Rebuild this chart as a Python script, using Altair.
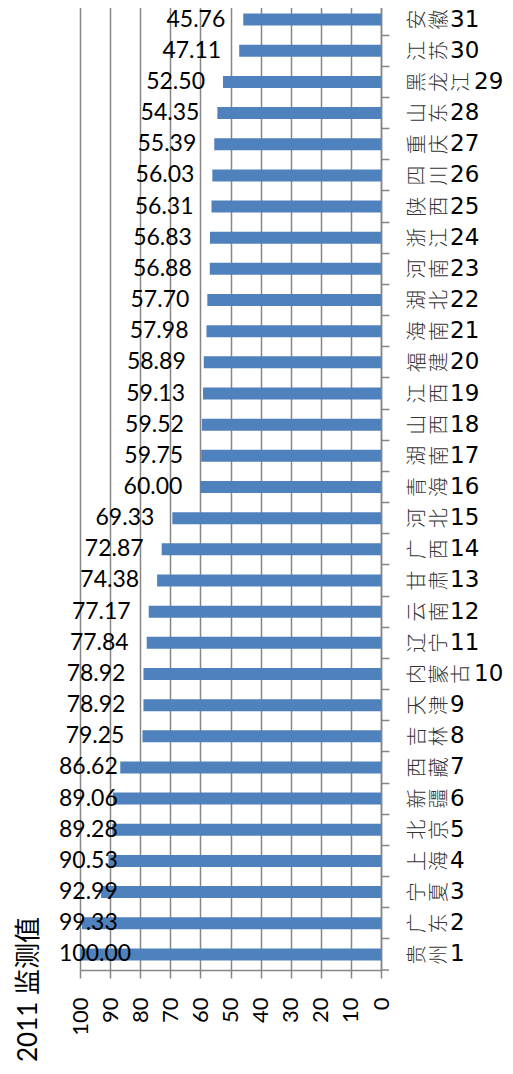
import altair as alt
import pandas as pd

ranks = list(range(1, 32))
provinces = ["贵州", "广东", "宁夏", "上海", "北京", "新疆", "西藏", "吉林", "天津", "内蒙古",
             "辽宁", "云南", "甘肃", "广西", "河北", "青海", "湖南", "山西", "江西", "福建",
             "海南", "湖北", "河南", "浙江", "陕西", "四川", "重庆", "山东", "黑龙江", "江苏", "安徽"]
values = [100.00, 99.33, 92.99, 90.53, 89.28, 89.06, 86.62, 79.25, 78.92, 78.92,
          77.84, 77.17, 74.38, 72.87, 69.33, 60.00, 59.75, 59.52, 59.13, 58.89,
          57.98, 57.70, 56.88, 56.83, 56.31, 56.03, 55.39, 54.35, 52.50, 47.11, 45.76]
x_ticks = [0, 10, 20, 30, 40, 50, 60, 70, 80, 90, 100]
axis_title = "2011 监测值"

df = pd.DataFrame({"rank": ranks, "name": provinces, "value": values})

W, H = 301, 966
BLUE = "#4F81BD"
GRID = "#868686"
NUM_FONT = "Lato"
CJK_FONT = "Noto Sans CJK SC"

y = alt.Y("rank:O", sort="descending",
          scale=alt.Scale(paddingInner=0, paddingOuter=0),
          axis=alt.Axis(orient="right", labels=False, title=None, domainColor=GRID,
                        domainWidth=1.5, tickColor=GRID, tickWidth=1.5, tickSize=8,
                        bandPosition=0, grid=False))
x = alt.X("value:Q",
          scale=alt.Scale(domain=[0, 100], reverse=True, nice=False),
          axis=alt.Axis(values=x_ticks, grid=True, gridColor=GRID, gridWidth=1.5,
                        domainColor=GRID, domainWidth=1.5, tickColor=GRID, tickWidth=1.5,
                        tickSize=8, labelAngle=270, labelAlign="right",
                        labelBaseline="middle", labelFont=NUM_FONT, labelFontSize=22,
                        labelPadding=19, labelColor="black", labelFlush=False,
                        labelOverlap=False, title=axis_title, titleAngle=270,
                        titleX=-52, titleY=19, titleAlign="center",
                        titleBaseline="middle", titleFont=f"{NUM_FONT}, {CJK_FONT}",
                        titleFontSize=26, titleFontWeight="normal", titleColor="black"))

base = alt.Chart(df)

bars = base.mark_bar(size=12, color=BLUE).encode(x=x, y=y)

lab_out = base.transform_filter("datum.value <= 81.4").mark_text(
    align="right", baseline="middle", dx=-18, font=NUM_FONT, fontSize=23, color="black"
).encode(x=x, y=y, text=alt.Text("value:Q", format=".2f"))

lab_clamp = base.transform_filter("datum.value > 81.4").mark_text(
    align="left", baseline="middle", font=NUM_FONT, fontSize=23, color="black"
).encode(x=alt.value(-21), y=y, text=alt.Text("value:Q", format=".2f"))

chars = base.transform_calculate(
    c0="substring(datum.name, 0, 1)",
    c1="substring(datum.name, 1, 2)",
    c2="substring(datum.name, 2, 3)",
    n="length(datum.name)",
)
char_layers = []
for i in range(3):
    char_layers.append(
        chars.transform_filter(f"datum.n > {i}").mark_text(
            angle=270, align="center", baseline="middle", font=CJK_FONT,
            fontSize=20, fontWeight=300, color="#333333"
        ).encode(x=alt.value(338 + 22 * i), y=y, text=alt.Text(f"c{i}:N"))
    )

num2 = chars.transform_filter("datum.n == 2").mark_text(
    align="left", baseline="middle", font="DejaVu Sans", fontSize=23, color="black"
).encode(x=alt.value(370), y=y, text=alt.Text("rank:O"))
num3 = chars.transform_filter("datum.n == 3").mark_text(
    align="left", baseline="middle", font="DejaVu Sans", fontSize=23, color="black"
).encode(x=alt.value(394), y=y, text=alt.Text("rank:O"))

end_tick = base.mark_rule(color=GRID, strokeWidth=1.5).encode(
    x=alt.value(W), x2=alt.value(W + 8), y=alt.value(H)
).transform_filter("datum.rank == 1")

chart = alt.layer(bars, lab_out, lab_clamp, *char_layers, num2, num3, end_tick).properties(
    width=W, height=H,
    padding={"left": 72, "top": -4, "right": 124, "bottom": 94},
    autosize="none",
).configure_view(stroke="transparent")

chart.save("out.html", embed_options={"renderer": "svg", "actions": False})
